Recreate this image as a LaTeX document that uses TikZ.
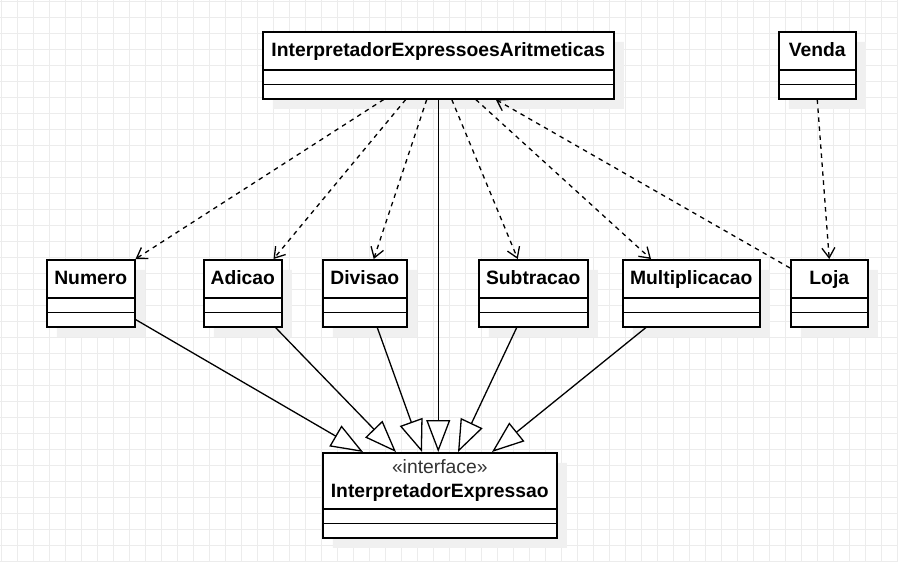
\documentclass[tikz,border=0pt]{standalone}
\usepackage{fontspec}
\setmainfont{Liberation Sans}
\usetikzlibrary{shapes.multipart,arrows.meta,shadows,positioning}
\definecolor{gridgray}{RGB}{236,236,236}
\definecolor{shadowgray}{RGB}{240,240,240}
\definecolor{stereogray}{RGB}{51,51,51}
\newcommand{\clsname}[1]{\rule[-12.5pt]{0pt}{36.5pt}#1}

\begin{document}
\begin{tikzpicture}[x=1pt, y=-1pt,
    umlclass/.style={rectangle split, rectangle split parts=3, draw, line width=1.5pt, fill=white,
        inner xsep=0pt, inner ysep=0pt, anchor=north west,
        rectangle split empty part height=13pt, rectangle split empty part depth=0pt,
        font=\fontsize{19.3}{23}\selectfont\bfseries,
        drop shadow={shadow xshift=10pt, shadow yshift=-10pt, fill=shadowgray, opacity=1}},
    stereo/.style={font=\fontsize{19.3}{23}\selectfont, text=stereogray, inner sep=0pt, anchor=base},
    dep/.style={-{Straight Barb[length=10pt, width=13pt]}, line width=1.3pt, dash pattern=on 4.5pt off 4.5pt},
    inherit/.style={-{Triangle[length=32pt, width=24pt, fill=white]}, line width=1.3pt},
    gridline/.style={draw=gridgray, line width=1pt}
]
    \useasboundingbox (0,0) rectangle (898,562);

    % Background grid
    \foreach \gx in {1,17,...,897} {
        \draw[gridline] (\gx,0) -- (\gx,562);
    }
    \foreach \gy in {1,17,...,561} {
        \draw[gridline] (0,\gy) -- (898,\gy);
    }

    % Top classes
    \node[umlclass, minimum width=351pt] (interp) at (262,31) {\clsname{InterpretadorExpressoesAritmeticas}};
    \node[umlclass, minimum width=77pt] (venda) at (778,31) {\clsname{Venda}};

    % Middle row
    \begin{scope}[every node/.append style={umlclass}]
        \node[minimum width=88pt] (numero) at (46,259) {\clsname{Numero}};
        \node[minimum width=78pt] (adicao) at (203,259) {\clsname{Adicao}};
        \node[minimum width=84pt] (divisao) at (322,259) {\clsname{Divisao}};
        \node[minimum width=109pt] (subtracao) at (478,259) {\clsname{Subtracao}};
        \node[minimum width=137pt] (mult) at (622,259) {\clsname{Multiplicacao}};
        \node[minimum width=77pt] (loja) at (790,259) {\clsname{Loja}};
    \end{scope}

    % Interface
    \node[umlclass, minimum width=234pt] (iface) at (322,452) {\rule[-11pt]{0pt}{54.5pt}InterpretadorExpressao};
    \node[stereo] (ifacestereo) at ([yshift=-21pt]iface.north) {«interface»};

    % Dependencies
    \draw[dep] ([xshift=-54.5pt]interp.south) -- (numero.north east);
    \draw[dep] ([xshift=-32.5pt]interp.south) -- ([xshift=-9pt]adicao.north east);
    \draw[dep] ([xshift=-11.5pt]interp.south) -- ([xshift=9pt]divisao.north);
    \draw[dep] ([xshift=13.5pt]interp.south) -- ([xshift=-15.5pt]subtracao.north);
    \draw[dep] ([xshift=37.5pt]interp.south) -- ([xshift=29pt]mult.north west);
    \draw[dep] ([yshift=-9pt]loja.north west) -- ([xshift=57.5pt]interp.south);
    \draw[dep] (venda.south) -- (loja.north);

    % Realizations
    \draw[inherit] ([yshift=8pt]numero.south east) -- ([xshift=41pt]iface.north west);
    \draw[inherit] ([xshift=-7pt]adicao.south east) -- ([xshift=74pt]iface.north west);
    \draw[inherit] ([xshift=12.5pt]divisao.south) -- ([xshift=100pt]iface.north west);
    \draw[inherit] (interp.south) -- (interp.south |- iface.north);
    \draw[inherit] ([xshift=-16.5pt]subtracao.south) -- ([xshift=136pt]iface.north west);
    \draw[inherit] ([xshift=24pt]mult.south west) -- ([xshift=170pt]iface.north west);
\end{tikzpicture}
\end{document}
